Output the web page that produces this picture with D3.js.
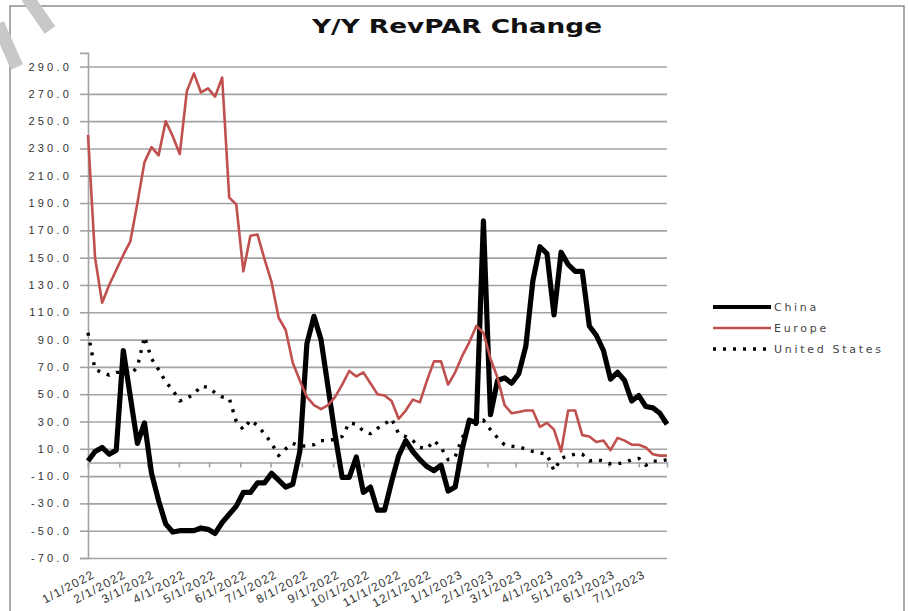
<!DOCTYPE html>
<html>
<head>
<meta charset="utf-8">
<script src="https://cdn.jsdelivr.net/npm/d3@7"></script>
<style>
  body { margin: 0; background: #fff; }
  svg { display: block; font-family: "DejaVu Sans", Verdana, sans-serif; }
</style>
</head>
<body>
<svg id="chart" width="908" height="611"></svg>
<script>
// weekly Y/Y RevPAR change, Saturdays 1/1/2022 .. 7/29/2023
const china = [
  1, 8, 11, 6, 9, 82, 48, 14, 29, -8,
  -28, -45, -51, -50, -50, -50, -48, -49, -52, -44,
  -38, -32, -22, -22, -15, -15, -8, -13, -18, -16,
  8, 87, 107, 90, 55, 20, -11, -11, 4, -22,
  -18, -35, -35, -14, 5, 16, 8, 2, -3, -6,
  -2, -21, -18, 10, 31, 29, 177, 35, 60, 62,
  58, 65, 85, 133, 158, 153, 108, 154, 145, 140,
  140, 100, 93, 82, 61, 66, 60, 45, 49, 41,
  40, 36, 28
];
const europe = [
  240, 150, 117, 130, 141, 152, 162, 190, 220, 231,
  225, 250, 239, 226, 272, 285, 271, 274, 268, 282,
  194, 189, 140, 166, 167, 149, 132, 106, 97, 73,
  60, 48, 42, 39, 42, 48, 57, 67, 63, 66,
  58, 50, 49, 45, 32, 38, 46, 44, 60, 74,
  74, 57, 66, 78, 88, 100, 95, 76, 62, 42,
  36, 37, 38, 38, 26, 29, 24, 8, 38, 38,
  20, 19, 15, 16, 9, 18, 16, 13, 13, 11,
  6, 5, 5
];
const unitedStates = [
  95, 68, 66, 64, 66, 66, 64, 70, 92, 76,
  68, 59, 53, 45, 47, 50, 56, 55, 51, 48,
  47, 30, 24, 31, 27, 21, 14, 5, 10, 14,
  12, 12, 13, 16, 16, 17, 19, 29, 28, 23,
  21, 25, 28, 32, 21, 19, 16, 11, 10, 16,
  11, 2, 4, 18, 28, 28, 31, 24, 18, 13,
  12, 11, 10, 8, 7, 6, -6, 3, 5, 6,
  6, 1, 2, 1, -1, -1, 0, 2, 3, -2,
  1, 1, 2
];
const xTickLabels = [
  "1/1/2022", "2/1/2022", "3/1/2022", "4/1/2022", "5/1/2022", "6/1/2022",
  "7/1/2022", "8/1/2022", "9/1/2022", "10/1/2022", "11/1/2022", "12/1/2022",
  "1/1/2023", "2/1/2023", "3/1/2023", "4/1/2023", "5/1/2023", "6/1/2023", "7/1/2023"
];
const yTicks = [-70, -50, -30, -10, 10, 30, 50, 70, 90, 110, 130, 150, 170, 190, 210, 230, 250, 270, 290];
const seriesNames = ["China", "Europe", "United States"];

const parseDate = d3.timeParse("%m/%d/%Y");
const firstWeek = parseDate("1/1/2022");
const lastWeek = parseDate("7/29/2023");
const weeks = d3.timeSaturday.range(firstWeek, d3.timeDay.offset(lastWeek, 1));

const svg = d3.select("#chart");

// outer frame
svg.append("path")
  .attr("d", "M10,611 V6 H904 V611")
  .attr("fill", "none")
  .attr("stroke", "#8e8e8e")
  .attr("stroke-width", 1.5);

// watermark scrap in the corner
svg.append("path")
  .attr("d", "M27,-3 L50,30 M-2,24 L17,67")
  .attr("fill", "none")
  .attr("stroke", "#c8c8c8")
  .attr("stroke-width", 13);

const x = d3.scaleTime().domain([firstWeek, lastWeek]).range([88, 667]);
const y = d3.scaleLinear().domain([-70, 300]).range([558, 52.9]);

// gridlines
svg.append("g")
  .attr("transform", "translate(88,0)")
  .call(d3.axisRight(y).tickValues(yTicks).tickSize(579).tickFormat(""))
  .call(g => g.select(".domain").remove())
  .call(g => g.selectAll("line").attr("stroke", "#a3a3a3").attr("stroke-width", 1.6));

// y axis
const fmt = d3.format(".1f");
svg.append("g")
  .attr("transform", "translate(88,0)")
  .call(d3.axisLeft(y).tickValues(yTicks).tickSize(8).tickPadding(8)
    .tickFormat(d => (d < 0 ? "-" : "") + fmt(Math.abs(d))))
  .call(g => g.select(".domain").attr("stroke", "#a3a3a3").attr("stroke-width", 1.6))
  .call(g => g.selectAll("line").attr("stroke", "#a3a3a3").attr("stroke-width", 1.6))
  .call(g => g.selectAll("text")
    .attr("fill", "#333")
    .style("font-size", "11px")
    .style("letter-spacing", "3.2px"));

// x axis at zero
const tickDates = xTickLabels.map(parseDate);
svg.append("g")
  .attr("transform", `translate(0,${y(0)})`)
  .call(d3.axisBottom(x).tickValues(tickDates).tickSize(5).tickFormat(""))
  .call(g => g.select(".domain").attr("stroke", "#a3a3a3").attr("stroke-width", 1.6))
  .call(g => g.selectAll("line").attr("stroke", "#a3a3a3").attr("stroke-width", 1.6));

// date labels under the plot
svg.append("g")
  .attr("transform", `translate(0,${y(-70)})`)
  .call(d3.axisBottom(x).tickValues(tickDates).tickSize(0)
    .tickFormat((d, i) => xTickLabels[i]))
  .call(g => g.select(".domain").remove())
  .call(g => g.selectAll("text")
    .attr("x", 0).attr("y", 0).attr("dy", 0)
    .attr("text-anchor", "end")
    .attr("transform", "translate(7,19) rotate(-28)")
    .attr("fill", "#333")
    .style("font-size", "12px")
    .style("letter-spacing", "1.3px"));

const line = d3.line()
  .x((d, i) => x(weeks[i]))
  .y(d => y(d));

const styles = [
  { data: china, color: "#000", width: 5.2, dash: null },
  { data: europe, color: "#c0504d", width: 2.6, dash: null },
  { data: unitedStates, color: "#000", width: 3.4, dash: "3,7" }
];

styles.forEach(s => {
  svg.append("path")
    .datum(s.data)
    .attr("d", line)
    .attr("fill", "none")
    .attr("stroke", s.color)
    .attr("stroke-width", s.width)
    .attr("stroke-linejoin", "round")
    .attr("stroke-dasharray", s.dash);
});

// title
svg.append("text")
  .attr("x", 457)
  .attr("y", 33)
  .attr("text-anchor", "middle")
  .attr("textLength", 290)
  .attr("lengthAdjust", "spacingAndGlyphs")
  .style("font-size", "19px")
  .style("font-weight", "bold")
  .attr("fill", "#111")
  .text("Y/Y RevPAR Change");

// legend
const legend = svg.append("g").attr("transform", "translate(713,307)");
styles.forEach((s, i) => {
  const row = legend.append("g").attr("transform", `translate(0,${i * 21})`);
  row.append("line")
    .attr("x1", 0).attr("x2", 58)
    .attr("stroke", s.color)
    .attr("stroke-width", i === 0 ? 4 : s.width)
    .attr("stroke-dasharray", s.dash);
  row.append("text")
    .attr("x", 61)
    .attr("dy", "0.35em")
    .attr("fill", "#444")
    .style("font-size", "11px")
    .style("letter-spacing", "2.7px")
    .text(seriesNames[i]);
});
</script>
</body>
</html>
